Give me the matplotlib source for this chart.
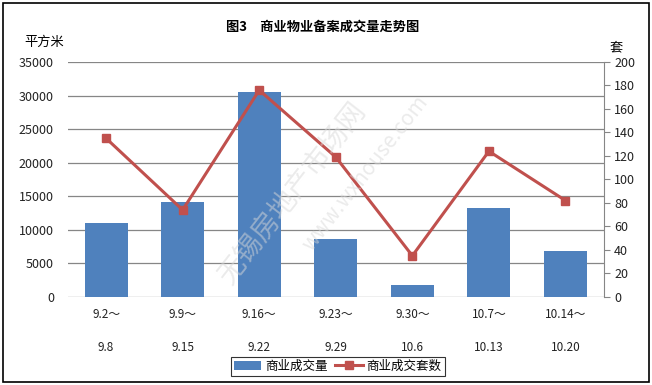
import matplotlib
matplotlib.use("Agg")
import matplotlib.pyplot as plt
from matplotlib.patches import Rectangle

plt.rcParams["font.family"] = ["Noto Sans CJK SC", "DejaVu Sans"]

periods = ["9.2～\n\n9.8", "9.9～\n\n9.15", "9.16～\n\n9.22", "9.23～\n\n9.29",
           "9.30～\n\n10.6", "10.7～\n\n10.13", "10.14～\n\n10.20"]
area = [11000, 14200, 30500, 8650, 1800, 13300, 6850]
units = [135, 74, 176, 119, 35, 124, 82]

BAR_COLOR = "#4F81BD"
LINE_COLOR = "#C0504D"

fig = plt.figure(figsize=(6.52, 3.85), dpi=100)
ax = fig.add_axes([0.104, 0.229, 0.822, 0.61])
ax2 = ax.twinx()

x = range(len(periods))
bars = ax.bar(x, area, width=0.56, color=BAR_COLOR, label="商业成交量", zorder=2)
line, = ax2.plot(x, units, "-s", color=LINE_COLOR, lw=2.2, markersize=6,
                 label="商业成交套数", zorder=3)

ax.set_xlim(-0.5, len(periods) - 0.5)
ax.set_ylim(0, 35000)
ax.set_yticks(range(0, 35001, 5000))
ax2.set_ylim(0, 200)
ax2.set_yticks(range(0, 201, 20))
ax.set_xticks(list(x))
ax.set_xticklabels(periods, fontsize=8.5, linespacing=1.35)
ax.yaxis.grid(True, color="#868686", lw=0.9, zorder=0)
ax.set_axisbelow(True)

for a in (ax, ax2):
    for s in ("top", "left", "bottom"):
        a.spines[s].set_visible(False)
ax2.spines["right"].set_color("#868686")
ax.spines["right"].set_visible(False)
ax.tick_params(axis="x", length=0, pad=8, colors="#222222")
ax.tick_params(axis="y", length=0, pad=10, labelsize=9, colors="#222222")
ax2.tick_params(axis="y", length=4, color="#868686", labelsize=9, colors="#222222")

fig.text(0.495, 0.93, "图3　商业物业备案成交量走势图", ha="center", va="center",
         fontsize=9.5, fontweight="bold")
fig.text(0.038, 0.89, "平方米", ha="left", va="center", fontsize=9.5)
fig.text(0.935, 0.877, "套", ha="left", va="center", fontsize=9.5)

# faint watermark
fig.text(0.45, 0.5, "无锡房地产市场网", rotation=52, ha="center", va="center",
         fontsize=20, color="#d8d8d8", alpha=0.5, zorder=0)
fig.text(0.56, 0.55, "www.wxhouse.com", rotation=52, ha="center", va="center",
         fontsize=15, color="#d8d8d8", alpha=0.5, zorder=0)

leg = fig.legend(handles=[bars, line], loc="center", bbox_to_anchor=(0.518, 0.049),
                 ncol=2, fontsize=9, frameon=True, fancybox=False,
                 edgecolor="black", handlelength=2.2, handletextpad=0.3,
                 columnspacing=0.6, borderpad=0.25)
leg.get_frame().set_linewidth(0.8)

fig.patches.append(Rectangle((0.005, 0.008), 0.99, 0.984, transform=fig.transFigure,
                             fill=False, edgecolor="black", lw=1.2))

fig.savefig("out.png", dpi=100)
